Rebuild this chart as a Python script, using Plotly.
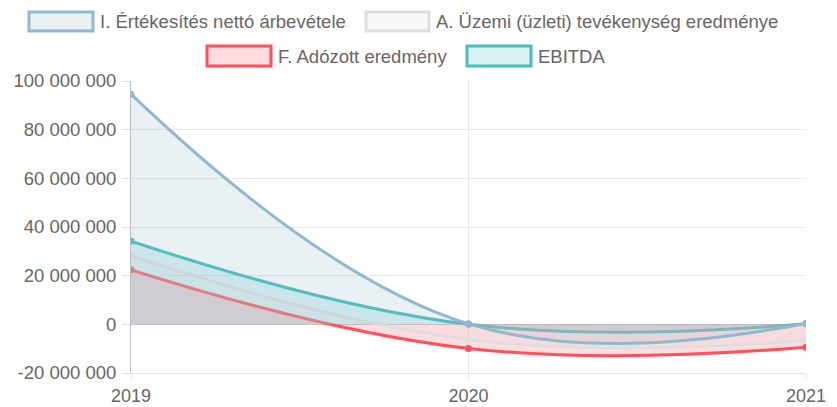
import plotly.graph_objects as go

# adatok
years = [2019, 2020, 2021]
sales = [94.6e6, 0.2e6, 0.4e6]          # I. Értékesítés nettó árbevétele
operating = [28.3e6, -6.2e6, -6.6e6]     # A. Üzemi (üzleti) tevékenység eredménye
net_profit = [22.4e6, -9.9e6, -9.4e6]    # F. Adózott eredmény
ebitda = [34.2e6, 0.0, 0.2e6]            # EBITDA

names = ["I. Értékesítés nettó árbevétele",
         "A. Üzemi (üzleti) tevékenység eredménye",
         "F. Adózott eredmény",
         "EBITDA"]
y_ticks = [-20e6, 0, 20e6, 40e6, 60e6, 80e6, 100e6]

series = [sales, operating, net_profit, ebitda]
line_colors = ["rgb(145,185,205)", "rgb(222,222,222)", "rgb(255,80,92)", "rgb(70,190,190)"]
fill_colors = ["rgba(145,185,205,0.2)", "rgba(222,222,222,0.2)", "rgba(255,80,92,0.2)", "rgba(70,190,190,0.2)"]

FONT = "Liberation Sans, Arial, sans-serif"

fig = go.Figure()
# Chart.js az első adatsort rajzolja legfelülre -> fordított sorrend
for i in reversed(range(4)):
    fig.add_trace(go.Scatter(
        x=years, y=series[i], name=names[i],
        mode="lines+markers",
        line=dict(color=line_colors[i], width=3, shape="spline", smoothing=1.2),
        marker=dict(size=7, color=line_colors[i]),
        fill="tozeroy", fillcolor=fill_colors[i],
        showlegend=False,
    ))

def fmt(v):
    s = f"{abs(int(v)):,}".replace(",", " ")
    return ("-" if v < 0 else "") + s

fig.update_xaxes(
    range=[2019, 2021], tickvals=years, ticktext=[str(y) for y in years],
    showgrid=True, gridcolor="rgb(232,232,232)", gridwidth=1,
    ticks="outside", ticklen=6, tickcolor="rgb(232,232,232)",
    showline=True, linecolor="rgb(225,225,225)", zeroline=False,
    automargin=False,
    tickfont=dict(family=FONT, size=18, color="rgb(102,102,102)"),
)
fig.update_yaxes(
    range=[-20e6, 100e6], tickvals=y_ticks, ticktext=[fmt(v) for v in y_ticks],
    showgrid=True, gridcolor="rgb(232,232,232)", gridwidth=1,
    ticks="outside", ticklen=8, tickcolor="rgb(225,225,225)",
    showline=True, linecolor="rgb(190,190,190)",
    zeroline=True, zerolinecolor="rgb(205,205,205)", zerolinewidth=1,
    ticklabelstandoff=2, automargin=False,
    tickfont=dict(family=FONT, size=18.5, color="rgb(102,102,102)"),
)

# az oldal 8 px-es body margóját levonjuk
OFF = 8
FW, FH = 837 - OFF, 407 - OFF
L, R, T, B = 131 - OFF, 31, 81 - OFF, 34
W, H = FW - L - R, FH - T - B
def px(x):
    return (x - OFF - L) / W
def py(y):
    return (FH - B - (y - OFF)) / H

# jelmagyarázat (Chart.js stílusú dobozok), oldal-pixelekben
legend_items = [  # (box x0, box x1, box y0, box y1)
    (29, 93, 12, 31),
    (366, 429, 12, 31),
    (207, 271, 46, 66),
    (467, 531, 46, 66),
]
for i, (x0, x1, y0, y1) in enumerate(legend_items):
    fig.add_shape(type="rect", xref="paper", yref="paper",
                  x0=px(x0), x1=px(x1), y0=py(y1), y1=py(y0),
                  line=dict(color=line_colors[i], width=3),
                  fillcolor=fill_colors[i])
    fig.add_annotation(xref="paper", yref="paper", x=px(x1 + 5), y=py((y0 + y1) / 2),
                       text=names[i], showarrow=False, xanchor="left", yanchor="middle",
                       font=dict(family=FONT, size=18.5, color="rgb(102,102,102)"))

fig.update_layout(
    width=FW, height=FH,
    margin=dict(l=L, r=R, t=T, b=B),
    plot_bgcolor="white", paper_bgcolor="white",
    showlegend=False,
)

fig.write_html("out.html")
